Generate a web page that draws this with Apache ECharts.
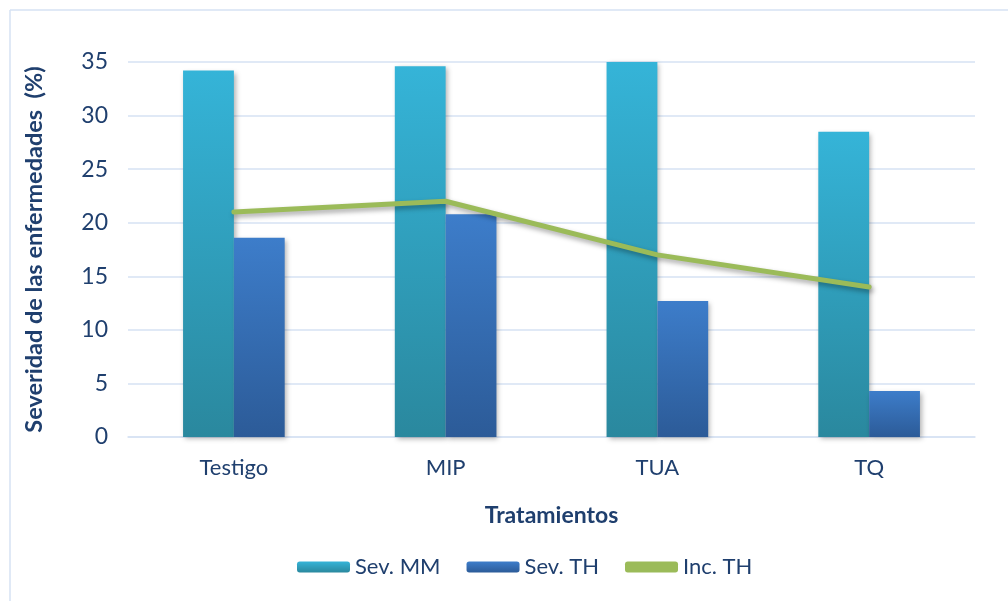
<!DOCTYPE html>
<html>
<head>
<meta charset="utf-8">
<script src="https://cdn.jsdelivr.net/npm/echarts@6/dist/echarts.min.js"></script>
<style>
  html, body { margin: 0; padding: 0; background: #fff; }
  #chart { width: 1008px; height: 601px; }
</style>
</head>
<body>
<div id="chart"></div>
<script>
  // datos
  var tratamientos = ['Testigo', 'MIP', 'TUA', 'TQ'];
  var sevMM = [34.2, 34.6, 35.0, 28.5];
  var sevTH = [18.6, 20.8, 12.7, 4.3];
  var incTH = [21, 22, 17, 14];

  var txtColor = '#1F3F6E';
  var fontFam = 'Lato, "Open Sans", sans-serif';

  var chart = echarts.init(document.getElementById('chart'));
  chart.setOption({
    backgroundColor: '#fff',
    animation: false,
    textStyle: { fontFamily: fontFam },
    graphic: [
      { type: 'line', shape: { x1: 10, y1: 10, x2: 10, y2: 601 }, style: { stroke: '#D6E2F3', lineWidth: 1.5 } },
      { type: 'line', shape: { x1: 10, y1: 10, x2: 1008, y2: 10 }, style: { stroke: '#D6E2F3', lineWidth: 1.5 } }
    ],
    grid: { left: 128, right: 33, top: 62, bottom: 164 },
    legend: {
      bottom: 18,
      left: 292,
      itemWidth: 53,
      itemHeight: 11,
      itemGap: 26,
      textStyle: { color: txtColor, fontSize: 22, fontFamily: fontFam },
      data: [
        { name: 'Sev. MM' },
        { name: 'Sev. TH' },
        { name: 'Inc. TH', icon: 'roundRect', itemStyle: { color: '#9BBB59' } }
      ]
    },
    xAxis: {
      type: 'category',
      data: tratamientos,
      name: 'Tratamientos',
      nameLocation: 'middle',
      nameGap: 67,
      nameTextStyle: { color: txtColor, fontSize: 23, fontWeight: 'bold' },
      axisLine: { lineStyle: { color: '#D6E2F3', width: 1.5 } },
      axisTick: { show: false },
      axisLabel: { color: txtColor, fontSize: 22, margin: 20 }
    },
    yAxis: {
      type: 'value',
      min: 0,
      max: 35,
      interval: 5,
      name: 'Severidad de las enfermedades  (%)',
      nameLocation: 'middle',
      nameGap: 82,
      nameTextStyle: { color: txtColor, fontSize: 23.5, fontWeight: 'bold' },
      axisLine: { show: false },
      axisTick: { show: false },
      axisLabel: { color: txtColor, fontSize: 23, margin: 20 },
      splitLine: { lineStyle: { color: '#D6E2F3', width: 1.5 } }
    },
    series: [
      {
        name: 'Sev. MM',
        type: 'bar',
        data: sevMM,
        barGap: '0%',
        barCategoryGap: '52%',
        itemStyle: {
          color: new echarts.graphic.LinearGradient(0, 0, 0, 1, [
            { offset: 0, color: '#35B4D8' },
            { offset: 1, color: '#2A889E' }
          ]),
          shadowColor: 'rgba(0,0,0,0.3)',
          shadowBlur: 5,
          shadowOffsetX: 2,
          shadowOffsetY: 2
        }
      },
      {
        name: 'Sev. TH',
        type: 'bar',
        data: sevTH,
        itemStyle: {
          color: new echarts.graphic.LinearGradient(0, 0, 0, 1, [
            { offset: 0, color: '#3D7DCA' },
            { offset: 1, color: '#2C5B98' }
          ]),
          shadowColor: 'rgba(0,0,0,0.3)',
          shadowBlur: 5,
          shadowOffsetX: 2,
          shadowOffsetY: 2
        }
      },
      {
        name: 'Inc. TH',
        type: 'line',
        data: incTH,
        symbol: 'none',
        z: 5,
        lineStyle: {
          color: '#9BBB59',
          width: 5,
          cap: 'round',
          join: 'round',
          shadowColor: 'rgba(0,0,0,0.35)',
          shadowBlur: 5,
          shadowOffsetX: 2,
          shadowOffsetY: 3
        },
        itemStyle: { color: '#9BBB59' }
      }
    ]
  });
</script>
</body>
</html>
